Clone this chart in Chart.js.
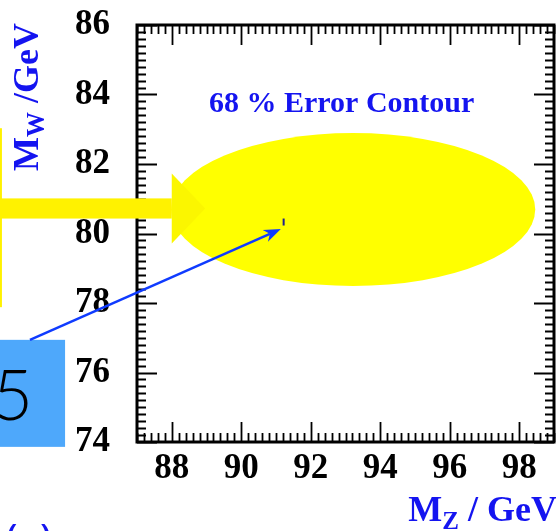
<!DOCTYPE html>
<html>
<head>
<meta charset="utf-8">
<script src="https://cdn.jsdelivr.net/npm/chart.js@4.4.1/dist/chart.umd.min.js"></script>
<style>
  html, body { margin: 0; padding: 0; background: #fff; }
  canvas { display: block; }
</style>
</head>
<body>
<canvas id="massChart" width="556" height="531"></canvas>
<script>
// axis ticks (GeV)
const xTicks = [88, 90, 92, 94, 96, 98];
const yTicks = [74, 76, 78, 80, 82, 84, 86];

// measured point
const measuredMz = [91.22];
const measuredMw = [80.33];

// 68% error contour: centre and half axes in (MZ, MW)
const contourCenter = [93.22, 80.69];
const contourHalfAxes = [5.24, 2.2];

// callouts, in axis units
const bandArrow = { from: 83.0, base: 88.0, tip: 88.96, y: 80.72, half: 0.29, headHalf: 1.01 };
const bandEdge = { x: 83.07, y0: 83.03, y1: 77.88 };
const noteBox = { x0: 83.0, x1: 84.93, y0: 76.94, y1: 73.86 };
const noteArrow = { from: [83.92, 76.94], to: [91.14, 80.13] };

const serif = '"Liberation Serif", "Times New Roman", serif';
const blue = '#1414f0';

const framePlugin = {
  id: 'frame',
  beforeDatasetsDraw(chart) {
    const { ctx, scales: { x, y } } = chart;
    const cx = x.getPixelForValue(contourCenter[0]);
    const cy = y.getPixelForValue(contourCenter[1]);
    const rx = x.getPixelForValue(contourCenter[0] + contourHalfAxes[0]) - cx;
    const ry = cy - y.getPixelForValue(contourCenter[1] + contourHalfAxes[1]);
    ctx.save();
    ctx.fillStyle = '#ffff00';
    ctx.beginPath();
    ctx.ellipse(cx, cy, rx, ry, 0, 0, Math.PI * 2);
    ctx.fill();
    ctx.restore();
  },
  afterDatasetsDraw(chart) {
    const { ctx, chartArea: a, scales: { x, y } } = chart;
    ctx.save();
    ctx.strokeStyle = '#000';
    ctx.lineWidth = 1.8;
    ctx.beginPath();
    for (let i = 0; i <= 60; i++) {
      const v = 87 + i * 0.2;
      const major = Math.abs(v / 2 - Math.round(v / 2)) < 1e-6;
      const len = major ? 20 : 9;
      const px = Math.round(x.getPixelForValue(v)) + 0.5;
      ctx.moveTo(px, a.bottom); ctx.lineTo(px, a.bottom - len);
      ctx.moveTo(px, a.top); ctx.lineTo(px, a.top + len);
    }
    for (let i = 0; i <= 60; i++) {
      const v = 74 + i * 0.2;
      const major = Math.abs(v / 2 - Math.round(v / 2)) < 1e-6;
      const len = major ? 20 : 9;
      const py = Math.round(y.getPixelForValue(v)) + 0.5;
      ctx.moveTo(a.left, py); ctx.lineTo(a.left + len, py);
      ctx.moveTo(a.right, py); ctx.lineTo(a.right - len, py);
    }
    ctx.stroke();
    ctx.lineWidth = 3;
    ctx.strokeRect(a.left, a.top, a.right - a.left, a.bottom - a.top);
    ctx.restore();
  },
  afterDraw(chart) {
    const { ctx, scales: { x, y } } = chart;
    const px = v => x.getPixelForValue(v);
    const py = v => y.getPixelForValue(v);
    ctx.save();

    // labels
    ctx.fillStyle = blue;
    ctx.font = 'bold 30px ' + serif;
    ctx.textBaseline = 'alphabetic';
    ctx.fillText('68 % Error Contour', 209, 112);

    // y title, rotated
    ctx.save();
    ctx.translate(38, 171);
    ctx.rotate(-Math.PI / 2);
    ctx.font = 'bold 36px ' + serif;
    ctx.fillText('M', 0, 0);
    let w = ctx.measureText('M').width;
    ctx.font = 'bold 25px ' + serif;
    ctx.fillText('W', w, 6);
    w += ctx.measureText('W').width;
    ctx.font = 'bold 36px ' + serif;
    ctx.fillText(' /GeV', w, 0);
    ctx.restore();

    // x title
    ctx.font = 'bold 36px ' + serif;
    const tail = ' / GeV';
    const wTail = ctx.measureText(tail).width;
    const wM = ctx.measureText('M').width;
    ctx.font = 'bold 25px ' + serif;
    const wZ = ctx.measureText('Z').width;
    const tx = 557 - wTail - wZ - wM;
    ctx.font = 'bold 36px ' + serif;
    ctx.fillText('M', tx, 521);
    ctx.font = 'bold 25px ' + serif;
    ctx.fillText('Z', tx + wM, 529);
    ctx.font = 'bold 36px ' + serif;
    ctx.fillText(tail, tx + wM + wZ, 521);

    ctx.font = '40px "Noto Sans", sans-serif';
    ctx.textAlign = 'right';
    ctx.fillText('(e)', 52, 553);
    ctx.textAlign = 'left';

    // yellow band arrow
    ctx.fillStyle = '#fff200';
    ctx.fillRect(px(bandArrow.from), py(bandArrow.y + bandArrow.half),
      px(bandArrow.base) - px(bandArrow.from), py(bandArrow.y - bandArrow.half) - py(bandArrow.y + bandArrow.half));
    ctx.fillStyle = '#fbf600';
    ctx.beginPath();
    ctx.moveTo(px(bandArrow.base), py(bandArrow.y + bandArrow.headHalf));
    ctx.lineTo(px(bandArrow.tip), py(bandArrow.y));
    ctx.lineTo(px(bandArrow.base), py(bandArrow.y - bandArrow.headHalf));
    ctx.closePath();
    ctx.fill();
    ctx.fillStyle = '#fff200';
    ctx.fillRect(px(bandEdge.x) - 1.5, py(bandEdge.y0), 3, py(bandEdge.y1) - py(bandEdge.y0));

    // note box
    ctx.fillStyle = '#4ea8fb';
    ctx.fillRect(px(noteBox.x0), py(noteBox.y0), px(noteBox.x1) - px(noteBox.x0), py(noteBox.y1) - py(noteBox.y0));
    ctx.fillStyle = '#000';
    ctx.font = '300 70px Lato, "Noto Sans", sans-serif';
    ctx.textAlign = 'right';
    ctx.fillText('5', 33, 420);

    // blue arrow to the measured point
    const x0 = px(noteArrow.from[0]), y0 = py(noteArrow.from[1]);
    const x1 = px(noteArrow.to[0]), y1 = py(noteArrow.to[1]);
    const ang = Math.atan2(y1 - y0, x1 - x0);
    ctx.strokeStyle = '#0f3bff';
    ctx.fillStyle = '#0f3bff';
    ctx.lineWidth = 2.5;
    ctx.beginPath();
    ctx.moveTo(x0, y0);
    ctx.lineTo(x1 - 12 * Math.cos(ang), y1 - 12 * Math.sin(ang));
    ctx.stroke();
    ctx.beginPath();
    ctx.moveTo(x1, y1);
    ctx.lineTo(x1 - 17 * Math.cos(ang) + 6.5 * Math.sin(ang), y1 - 17 * Math.sin(ang) - 6.5 * Math.cos(ang));
    ctx.lineTo(x1 - 12 * Math.cos(ang), y1 - 12 * Math.sin(ang));
    ctx.lineTo(x1 - 17 * Math.cos(ang) - 6.5 * Math.sin(ang), y1 - 17 * Math.sin(ang) + 6.5 * Math.cos(ang));
    ctx.closePath();
    ctx.fill();
    ctx.restore();
  }
};

const tickFont = { family: serif, weight: 'bold', size: 35 };

new Chart(document.getElementById('massChart'), {
  type: 'scatter',
  data: {
    datasets: [{
      data: measuredMz.map((mz, i) => ({ x: mz, y: measuredMw[i] })),
      pointStyle: 'line',
      rotation: 90,
      radius: 3.5,
      borderWidth: 2,
      borderColor: '#20208c',
      backgroundColor: '#20208c'
    }]
  },
  options: {
    responsive: false,
    animation: false,
    devicePixelRatio: 1,
    layout: { autoPadding: false, padding: { left: 0, top: 25, right: 2, bottom: 0 } },
    plugins: { legend: { display: false }, tooltip: { enabled: false } },
    scales: {
      x: {
        type: 'linear',
        position: 'bottom',
        min: 87,
        max: 99,
        grid: { display: false, drawTicks: false },
        border: { display: false },
        ticks: { font: tickFont, color: '#000', padding: 6, maxRotation: 0, autoSkip: false },
        afterBuildTicks: s => { s.ticks = xTicks.map(v => ({ value: v })); },
        afterFit: s => { s.height = 89; s.paddingLeft = 0; s.paddingRight = 0; }
      },
      y: {
        type: 'linear',
        min: 74,
        max: 86,
        grid: { display: false, drawTicks: false },
        border: { display: false },
        ticks: { font: tickFont, color: '#000', padding: 27, autoSkip: false },
        afterBuildTicks: s => { s.ticks = yTicks.map(v => ({ value: v })); },
        afterFit: s => { s.width = 137; s.paddingTop = 0; s.paddingBottom = 0; }
      }
    }
  },
  plugins: [framePlugin]
});
</script>
</body>
</html>
